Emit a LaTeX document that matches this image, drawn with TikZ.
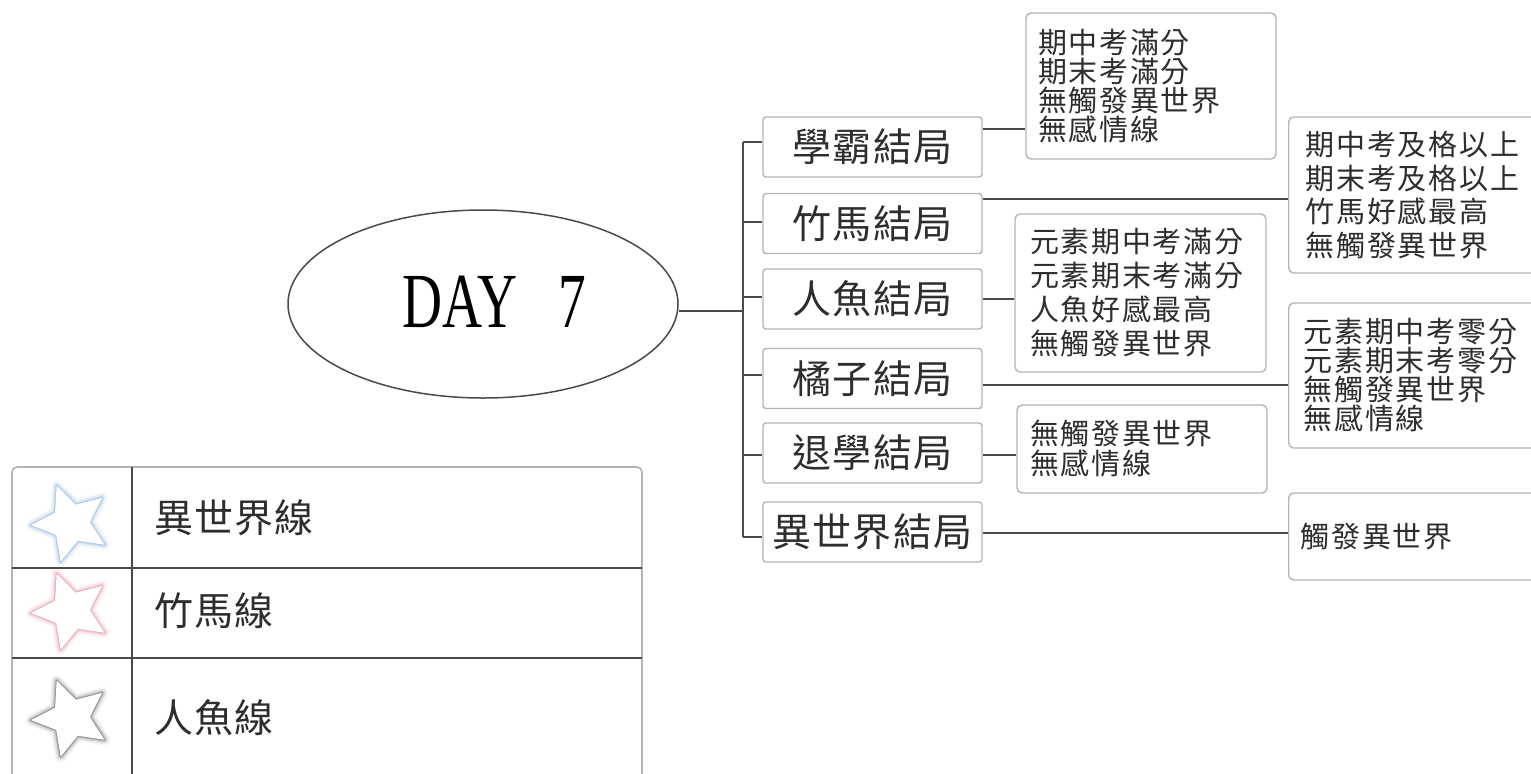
\documentclass[tikz,border=0pt]{standalone}
\usepackage{fontspec}
\usepackage{graphicx}
\setmainfont{Liberation Serif}
\newfontfamily\cjkb[LetterSpace=3]{Noto Sans CJK TC}
\newfontfamily\cjkd[LetterSpace=6]{Noto Sans CJK TC}
\usetikzlibrary{shapes.geometric,calc}
\definecolor{txt}{HTML}{2E2E2E}
\definecolor{ln}{HTML}{4A4A4A}
\definecolor{bx}{HTML}{B4B4B4}
\definecolor{sblue}{HTML}{8FB6DE}
\definecolor{spink}{HTML}{E3959F}
\definecolor{sgray}{HTML}{6E6E6E}
\newcommand\legstar[2]{%
  \foreach \w/\o in {11/0.07,8/0.10,5.5/0.15,3.5/0.22,2/0.35,1/0.5}{%
    \draw[#2, line width=\w*0.5pt, opacity=\o, line join=round, shift={(#1)}]
      (-111:40) -- (-75:19) -- (-39:40) -- (-3:19) -- (33:40) -- (69:19)
      -- (105:40) -- (141:19) -- (177:40) -- (213:19) -- cycle;}
  \fill[white, shift={(#1)}]
      (-111:40) -- (-75:19) -- (-39:40) -- (-3:19) -- (33:40) -- (69:19)
      -- (105:40) -- (141:19) -- (177:40) -- (213:19) -- cycle;
}
\begin{document}
\begin{tikzpicture}[x=0.5pt,y=-0.5pt,
  conn/.style={draw=ln,line width=1pt},
  endbox/.style={draw=bx,line width=0.7pt,rounded corners=1.5pt,fill=white,
    minimum width=109.5pt,minimum height=30pt,inner sep=0pt,
    font=\cjkb\fontsize{19.5}{21}\selectfont,text=txt},
  infobox/.style={draw=bx,line width=0.7pt,rounded corners=2.5pt,fill=white,
    align=left,inner ysep=0pt,text=txt},
  legtext/.style={anchor=west,inner sep=0pt,font=\cjkb\fontsize{19.5}{21}\selectfont,text=txt},
]
\useasboundingbox (0,0) rectangle (1531,773);
\fill[white] (0,0) rectangle (1531,773);

% centre ellipse
\node[ellipse,draw=ln,line width=0.75pt,minimum width=195pt,minimum height=94pt,inner sep=0pt] (ell) at (483,304) {};
\node[inner sep=0pt,font=\fontsize{39}{40}\selectfont] (day) at (494,302) {\scalebox{0.71}[1]{DAY\hspace{29pt}7}};

% ending boxes
\node[endbox] (b1) at (872.5,147) {學霸結局};
\node[endbox] (b2) at (872.5,223.5) {竹馬結局};
\node[endbox] (b3) at (872.5,299) {人魚結局};
\node[endbox] (b4) at (872.5,378.5) {橘子結局};
\node[endbox] (b5) at (872.5,453) {退學結局};
\node[endbox] (b6) at (872.5,532) {異世界結局};

% trunk
\coordinate (tj) at (743,311);
\coordinate (t1) at (743,142);
\coordinate (t2) at (743,222);
\coordinate (t3) at (743,297);
\coordinate (t4) at (743,375);
\coordinate (t5) at (743,455);
\coordinate (t6) at (743,537);
\draw[conn] (ell.east |- tj) -- (tj);
\draw[conn] (t1) -- (t6);
\foreach \i in {1,...,6}{\draw[conn] (t\i) -- (b\i.west |- t\i);}

% info boxes (middle column)
\node[infobox,inner xsep=6pt,text width=113pt,minimum height=73pt,
  font=\cjkd\fontsize{14.5}{14.4}\selectfont] (d1) at (1151,86)
  {期中考滿分\\期末考滿分\\無觸發異世界\\無感情線};
\node[infobox,inner xsep=7.5pt,text width=110.5pt,minimum height=79pt,
  font=\cjkd\fontsize{14.5}{17}\selectfont] (d3) at (1140.5,293)
  {元素期中考滿分\\元素期末考滿分\\人魚好感最高\\無觸發異世界};
\node[infobox,inner xsep=6.5pt,text width=112pt,minimum height=44pt,
  font=\cjkd\fontsize{14.5}{15}\selectfont] (d5) at (1142,449)
  {無觸發異世界\\無感情線};

% info boxes (right column)
\node[infobox,anchor=west,inner xsep=8.5pt,text width=113pt,minimum height=78pt,
  font=\cjkd\fontsize{14.5}{16.8}\selectfont] (d2) at (1288,195)
  {期中考及格以上\\期末考及格以上\\竹馬好感最高\\無觸發異世界};
\node[infobox,anchor=west,inner xsep=7.5pt,text width=115pt,minimum height=72.5pt,
  font=\cjkd\fontsize{14.5}{13}\selectfont] (d4) at (1288,375.5)
  {元素期中考零分\\元素期末考零分\\無觸發異世界\\無感情線};
\node[infobox,anchor=west,inner xsep=6pt,text width=118pt,minimum height=43.5pt,
  font=\cjkd\fontsize{14.5}{15}\selectfont] (d6) at (1288,536.5)
  {觸發異世界};

% connectors to info boxes
\coordinate (c1) at (0,129);
\coordinate (c2) at (0,199);
\coordinate (c3) at (0,299);
\coordinate (c4) at (0,385);
\coordinate (c5) at (0,455);
\coordinate (c6) at (0,533);
\foreach \i in {1,...,6}{\draw[conn] (b\i.east |- c\i) -- (d\i.west |- c\i);}

% legend
\draw[draw=bx,line width=0.8pt,rounded corners=2.5pt] (12,467) rectangle (642,800);
\draw[conn] (132,467) -- (132,790);
\draw[conn] (12,568) -- (642,568);
\draw[conn] (12,658) -- (642,658);
\coordinate (s1) at (71,523);
\coordinate (s2) at (71,611);
\coordinate (s3) at (71,718);
\legstar{s1}{sblue}
\legstar{s2}{spink}
\legstar{s3}{sgray}
\node[legtext] (l1) at (154,518) {異世界線};
\node[legtext] (l2) at (154,611) {竹馬線};
\node[legtext] (l3) at (154,718) {人魚線};
\end{tikzpicture}
\end{document}
